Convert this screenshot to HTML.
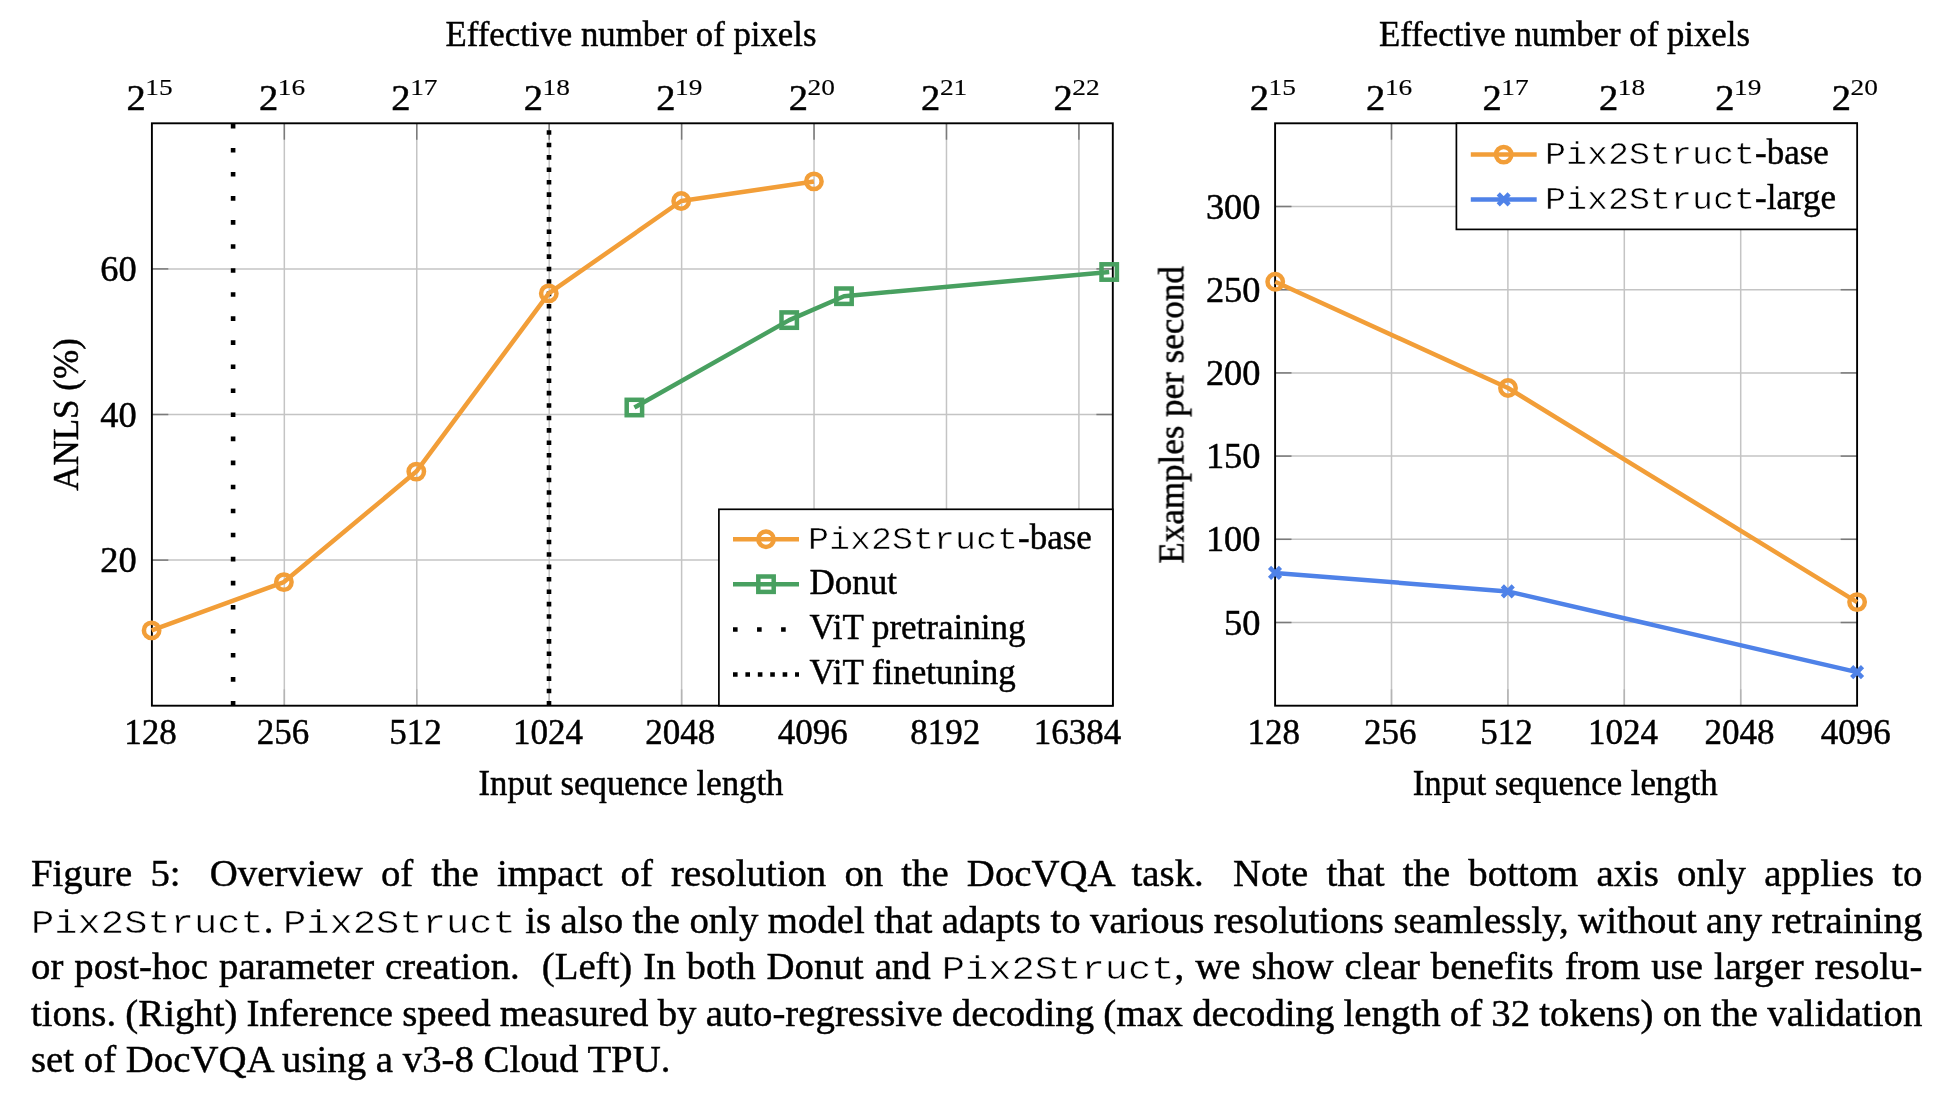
<!DOCTYPE html>
<html><head><meta charset="utf-8"><style>
html,body{margin:0;padding:0;background:#fff;}
body{width:1956px;height:1114px;position:relative;overflow:hidden;}
svg,.cl{will-change:transform;}
text{fill:#000;stroke:#000;stroke-width:0.45px;}
.mono{font-family:"Liberation Mono",monospace;}
svg text.mono{stroke:#fff;stroke-width:0.6px;}
.cl{position:absolute;left:31.2px;white-space:nowrap;font-family:"Liberation Serif",serif;font-size:38.8px;line-height:38.8px;color:#000;-webkit-text-stroke:0.45px #000;}
.cl .mono{display:inline-block;line-height:38.8px;transform:scaleY(0.87);transform-origin:0 29.74px;-webkit-text-stroke:0.6px #fff;}
.gap{display:inline-block;width:11px;}
</style></head><body>
<svg width="1956" height="1114" style="position:absolute;left:0;top:0" font-family="Liberation Serif, serif">
<line x1="284.33" y1="123.3" x2="284.33" y2="705.7" stroke="#C4C4C4" stroke-width="1.5"/>
<line x1="416.76" y1="123.3" x2="416.76" y2="705.7" stroke="#C4C4C4" stroke-width="1.5"/>
<line x1="549.19" y1="123.3" x2="549.19" y2="705.7" stroke="#C4C4C4" stroke-width="1.5"/>
<line x1="681.62" y1="123.3" x2="681.62" y2="705.7" stroke="#C4C4C4" stroke-width="1.5"/>
<line x1="814.05" y1="123.3" x2="814.05" y2="705.7" stroke="#C4C4C4" stroke-width="1.5"/>
<line x1="946.48" y1="123.3" x2="946.48" y2="705.7" stroke="#C4C4C4" stroke-width="1.5"/>
<line x1="1078.91" y1="123.3" x2="1078.91" y2="705.7" stroke="#C4C4C4" stroke-width="1.5"/>
<line x1="151.9" y1="560.10" x2="1112.8" y2="560.10" stroke="#C4C4C4" stroke-width="1.5"/>
<line x1="151.9" y1="414.50" x2="1112.8" y2="414.50" stroke="#C4C4C4" stroke-width="1.5"/>
<line x1="151.9" y1="268.90" x2="1112.8" y2="268.90" stroke="#C4C4C4" stroke-width="1.5"/>
<line x1="284.33" y1="705.7" x2="284.33" y2="689.30" stroke="#b4b4b4" stroke-width="1.5"/>
<line x1="284.33" y1="123.3" x2="284.33" y2="139.70" stroke="#7a7a7a" stroke-width="1.5"/>
<line x1="416.76" y1="705.7" x2="416.76" y2="689.30" stroke="#b4b4b4" stroke-width="1.5"/>
<line x1="416.76" y1="123.3" x2="416.76" y2="139.70" stroke="#7a7a7a" stroke-width="1.5"/>
<line x1="549.19" y1="705.7" x2="549.19" y2="689.30" stroke="#b4b4b4" stroke-width="1.5"/>
<line x1="549.19" y1="123.3" x2="549.19" y2="139.70" stroke="#7a7a7a" stroke-width="1.5"/>
<line x1="681.62" y1="705.7" x2="681.62" y2="689.30" stroke="#b4b4b4" stroke-width="1.5"/>
<line x1="681.62" y1="123.3" x2="681.62" y2="139.70" stroke="#7a7a7a" stroke-width="1.5"/>
<line x1="814.05" y1="705.7" x2="814.05" y2="689.30" stroke="#b4b4b4" stroke-width="1.5"/>
<line x1="814.05" y1="123.3" x2="814.05" y2="139.70" stroke="#7a7a7a" stroke-width="1.5"/>
<line x1="946.48" y1="705.7" x2="946.48" y2="689.30" stroke="#b4b4b4" stroke-width="1.5"/>
<line x1="946.48" y1="123.3" x2="946.48" y2="139.70" stroke="#7a7a7a" stroke-width="1.5"/>
<line x1="1078.91" y1="705.7" x2="1078.91" y2="689.30" stroke="#b4b4b4" stroke-width="1.5"/>
<line x1="1078.91" y1="123.3" x2="1078.91" y2="139.70" stroke="#7a7a7a" stroke-width="1.5"/>
<line x1="151.9" y1="560.10" x2="168.30" y2="560.10" stroke="#7a7a7a" stroke-width="1.5"/>
<line x1="1112.8" y1="560.10" x2="1096.40" y2="560.10" stroke="#7a7a7a" stroke-width="1.5"/>
<line x1="151.9" y1="414.50" x2="168.30" y2="414.50" stroke="#7a7a7a" stroke-width="1.5"/>
<line x1="1112.8" y1="414.50" x2="1096.40" y2="414.50" stroke="#7a7a7a" stroke-width="1.5"/>
<line x1="151.9" y1="268.90" x2="168.30" y2="268.90" stroke="#7a7a7a" stroke-width="1.5"/>
<line x1="1112.8" y1="268.90" x2="1096.40" y2="268.90" stroke="#7a7a7a" stroke-width="1.5"/>
<rect x="151.9" y="123.3" width="960.90" height="582.40" fill="none" stroke="#000" stroke-width="1.9"/>
<line x1="233.1" y1="705.7" x2="233.1" y2="123.3" stroke="#000" stroke-width="4.6" stroke-dasharray="4.6 19.45"/>
<line x1="549.0" y1="705.7" x2="549.0" y2="123.3" stroke="#000" stroke-width="4.6" stroke-dasharray="4.6 7.81"/>
<polyline points="151.60,630.40 283.90,582.10 416.30,471.60 548.80,293.40 681.20,201.00 813.90,181.40" fill="none" stroke="#F29E38" stroke-width="4.5" stroke-linejoin="round"/>
<circle cx="151.60" cy="630.40" r="7.7" fill="none" stroke="#F29E38" stroke-width="4.5"/>
<circle cx="283.90" cy="582.10" r="7.7" fill="none" stroke="#F29E38" stroke-width="4.5"/>
<circle cx="416.30" cy="471.60" r="7.7" fill="none" stroke="#F29E38" stroke-width="4.5"/>
<circle cx="548.80" cy="293.40" r="7.7" fill="none" stroke="#F29E38" stroke-width="4.5"/>
<circle cx="681.20" cy="201.00" r="7.7" fill="none" stroke="#F29E38" stroke-width="4.5"/>
<circle cx="813.90" cy="181.40" r="7.7" fill="none" stroke="#F29E38" stroke-width="4.5"/>
<polyline points="634.40,407.50 789.20,320.10 844.00,296.20 1109.20,272.00" fill="none" stroke="#48A060" stroke-width="4.5" stroke-linejoin="round"/>
<rect x="626.70" y="399.80" width="15.4" height="15.4" fill="none" stroke="#48A060" stroke-width="4.5"/>
<rect x="781.50" y="312.40" width="15.4" height="15.4" fill="none" stroke="#48A060" stroke-width="4.5"/>
<rect x="836.30" y="288.50" width="15.4" height="15.4" fill="none" stroke="#48A060" stroke-width="4.5"/>
<rect x="1101.50" y="264.30" width="15.4" height="15.4" fill="none" stroke="#48A060" stroke-width="4.5"/>
<rect x="718.9" y="509.3" width="393.90" height="196.40" fill="#fff" stroke="#000" stroke-width="1.7"/>
<line x1="733" y1="539.2" x2="799" y2="539.2" stroke="#F29E38" stroke-width="4.5"/>
<circle cx="766.00" cy="539.20" r="7.7" fill="none" stroke="#F29E38" stroke-width="4.5"/>
<line x1="733" y1="584.2" x2="799" y2="584.2" stroke="#48A060" stroke-width="4.5"/>
<rect x="758.30" y="576.50" width="15.4" height="15.4" fill="none" stroke="#48A060" stroke-width="4.5"/>
<line x1="733" y1="629.5" x2="799" y2="629.5" stroke="#000" stroke-width="4.6" stroke-dasharray="4.6 19.45" />
<line x1="733" y1="674.5" x2="799" y2="674.5" stroke="#000" stroke-width="4.6" stroke-dasharray="4.6 7.81" />
<text class="mono" transform="translate(808.00 548.80) scale(1 0.87)" font-size="35">Pix2Struct</text><text x="1018.00" y="548.80" font-size="35">-base</text>
<text x="809.50" y="593.80" text-anchor="start" font-size="35" >Donut</text>
<text x="809.50" y="638.80" text-anchor="start" font-size="35" >ViT pretraining</text>
<text x="809.50" y="683.80" text-anchor="start" font-size="35" >ViT finetuning</text>
<text x="150.60" y="744.20" text-anchor="middle" font-size="35" >128</text>
<text x="283.03" y="744.20" text-anchor="middle" font-size="35" >256</text>
<text x="415.46" y="744.20" text-anchor="middle" font-size="35" >512</text>
<text x="547.89" y="744.20" text-anchor="middle" font-size="35" >1024</text>
<text x="680.32" y="744.20" text-anchor="middle" font-size="35" >2048</text>
<text x="812.75" y="744.20" text-anchor="middle" font-size="35" >4096</text>
<text x="945.18" y="744.20" text-anchor="middle" font-size="35" >8192</text>
<text x="1077.61" y="744.20" text-anchor="middle" font-size="35" >16384</text>
<text transform="translate(126.50 109.90) scale(1.1 1)" font-size="35">2</text><text transform="translate(145.30 94.60) scale(1.16 1)" font-size="23.6" style="stroke-width:0.15px">15</text>
<text transform="translate(258.93 109.90) scale(1.1 1)" font-size="35">2</text><text transform="translate(277.73 94.60) scale(1.16 1)" font-size="23.6" style="stroke-width:0.15px">16</text>
<text transform="translate(391.36 109.90) scale(1.1 1)" font-size="35">2</text><text transform="translate(410.16 94.60) scale(1.16 1)" font-size="23.6" style="stroke-width:0.15px">17</text>
<text transform="translate(523.79 109.90) scale(1.1 1)" font-size="35">2</text><text transform="translate(542.59 94.60) scale(1.16 1)" font-size="23.6" style="stroke-width:0.15px">18</text>
<text transform="translate(656.22 109.90) scale(1.1 1)" font-size="35">2</text><text transform="translate(675.02 94.60) scale(1.16 1)" font-size="23.6" style="stroke-width:0.15px">19</text>
<text transform="translate(788.65 109.90) scale(1.1 1)" font-size="35">2</text><text transform="translate(807.45 94.60) scale(1.16 1)" font-size="23.6" style="stroke-width:0.15px">20</text>
<text transform="translate(921.08 109.90) scale(1.1 1)" font-size="35">2</text><text transform="translate(939.88 94.60) scale(1.16 1)" font-size="23.6" style="stroke-width:0.15px">21</text>
<text transform="translate(1053.51 109.90) scale(1.1 1)" font-size="35">2</text><text transform="translate(1072.31 94.60) scale(1.16 1)" font-size="23.6" style="stroke-width:0.15px">22</text>
<text transform="translate(136.6 572.10) scale(1.04 1)" text-anchor="end" font-size="35">20</text>
<text transform="translate(136.6 426.50) scale(1.04 1)" text-anchor="end" font-size="35">40</text>
<text transform="translate(136.6 280.90) scale(1.04 1)" text-anchor="end" font-size="35">60</text>
<text x="631.00" y="46.40" text-anchor="middle" font-size="34.75" >Effective number of pixels</text>
<text x="631.00" y="794.80" text-anchor="middle" font-size="34.75" >Input sequence length</text>
<text x="0" y="0" text-anchor="middle" font-size="35" transform="translate(78.2 414.5) rotate(-90)">ANLS (%)</text>
<line x1="1391.50" y1="123.3" x2="1391.50" y2="705.7" stroke="#C4C4C4" stroke-width="1.5"/>
<line x1="1507.90" y1="123.3" x2="1507.90" y2="705.7" stroke="#C4C4C4" stroke-width="1.5"/>
<line x1="1624.30" y1="123.3" x2="1624.30" y2="705.7" stroke="#C4C4C4" stroke-width="1.5"/>
<line x1="1740.70" y1="123.3" x2="1740.70" y2="705.7" stroke="#C4C4C4" stroke-width="1.5"/>
<line x1="1275.1" y1="622.50" x2="1857.1" y2="622.50" stroke="#C4C4C4" stroke-width="1.5"/>
<line x1="1275.1" y1="539.30" x2="1857.1" y2="539.30" stroke="#C4C4C4" stroke-width="1.5"/>
<line x1="1275.1" y1="456.10" x2="1857.1" y2="456.10" stroke="#C4C4C4" stroke-width="1.5"/>
<line x1="1275.1" y1="372.90" x2="1857.1" y2="372.90" stroke="#C4C4C4" stroke-width="1.5"/>
<line x1="1275.1" y1="289.70" x2="1857.1" y2="289.70" stroke="#C4C4C4" stroke-width="1.5"/>
<line x1="1275.1" y1="206.50" x2="1857.1" y2="206.50" stroke="#C4C4C4" stroke-width="1.5"/>
<line x1="1391.50" y1="705.7" x2="1391.50" y2="689.30" stroke="#b4b4b4" stroke-width="1.5"/>
<line x1="1391.50" y1="123.3" x2="1391.50" y2="139.70" stroke="#7a7a7a" stroke-width="1.5"/>
<line x1="1507.90" y1="705.7" x2="1507.90" y2="689.30" stroke="#b4b4b4" stroke-width="1.5"/>
<line x1="1507.90" y1="123.3" x2="1507.90" y2="139.70" stroke="#7a7a7a" stroke-width="1.5"/>
<line x1="1624.30" y1="705.7" x2="1624.30" y2="689.30" stroke="#b4b4b4" stroke-width="1.5"/>
<line x1="1624.30" y1="123.3" x2="1624.30" y2="139.70" stroke="#7a7a7a" stroke-width="1.5"/>
<line x1="1740.70" y1="705.7" x2="1740.70" y2="689.30" stroke="#b4b4b4" stroke-width="1.5"/>
<line x1="1740.70" y1="123.3" x2="1740.70" y2="139.70" stroke="#7a7a7a" stroke-width="1.5"/>
<line x1="1275.1" y1="622.50" x2="1291.50" y2="622.50" stroke="#7a7a7a" stroke-width="1.5"/>
<line x1="1857.1" y1="622.50" x2="1840.70" y2="622.50" stroke="#7a7a7a" stroke-width="1.5"/>
<line x1="1275.1" y1="539.30" x2="1291.50" y2="539.30" stroke="#7a7a7a" stroke-width="1.5"/>
<line x1="1857.1" y1="539.30" x2="1840.70" y2="539.30" stroke="#7a7a7a" stroke-width="1.5"/>
<line x1="1275.1" y1="456.10" x2="1291.50" y2="456.10" stroke="#7a7a7a" stroke-width="1.5"/>
<line x1="1857.1" y1="456.10" x2="1840.70" y2="456.10" stroke="#7a7a7a" stroke-width="1.5"/>
<line x1="1275.1" y1="372.90" x2="1291.50" y2="372.90" stroke="#7a7a7a" stroke-width="1.5"/>
<line x1="1857.1" y1="372.90" x2="1840.70" y2="372.90" stroke="#7a7a7a" stroke-width="1.5"/>
<line x1="1275.1" y1="289.70" x2="1291.50" y2="289.70" stroke="#7a7a7a" stroke-width="1.5"/>
<line x1="1857.1" y1="289.70" x2="1840.70" y2="289.70" stroke="#7a7a7a" stroke-width="1.5"/>
<line x1="1275.1" y1="206.50" x2="1291.50" y2="206.50" stroke="#7a7a7a" stroke-width="1.5"/>
<line x1="1857.1" y1="206.50" x2="1840.70" y2="206.50" stroke="#7a7a7a" stroke-width="1.5"/>
<rect x="1275.1" y="123.3" width="582.00" height="582.40" fill="none" stroke="#000" stroke-width="1.9"/>
<polyline points="1275.20,281.80 1508.00,388.00 1857.10,602.10" fill="none" stroke="#F29E38" stroke-width="4.5" stroke-linejoin="round"/>
<circle cx="1275.20" cy="281.80" r="7.7" fill="none" stroke="#F29E38" stroke-width="4.5"/>
<circle cx="1508.00" cy="388.00" r="7.7" fill="none" stroke="#F29E38" stroke-width="4.5"/>
<circle cx="1857.10" cy="602.10" r="7.7" fill="none" stroke="#F29E38" stroke-width="4.5"/>
<polyline points="1275.00,572.90 1507.80,591.40 1857.10,672.10" fill="none" stroke="#4F82E8" stroke-width="4.5" stroke-linejoin="round"/>
<path d="M1269.56 567.46L1280.44 578.34M1269.56 578.34L1280.44 567.46" stroke="#4F82E8" stroke-width="4.5" fill="none"/>
<path d="M1502.36 585.96L1513.24 596.84M1502.36 596.84L1513.24 585.96" stroke="#4F82E8" stroke-width="4.5" fill="none"/>
<path d="M1851.66 666.66L1862.54 677.54M1851.66 677.54L1862.54 666.66" stroke="#4F82E8" stroke-width="4.5" fill="none"/>
<rect x="1456.4" y="123.3" width="400.70" height="106.10" fill="#fff" stroke="#000" stroke-width="1.7"/>
<line x1="1470.8" y1="154.6" x2="1536.7" y2="154.6" stroke="#F29E38" stroke-width="4.5"/>
<circle cx="1503.70" cy="154.60" r="7.7" fill="none" stroke="#F29E38" stroke-width="4.5"/>
<line x1="1470.8" y1="199.39999999999998" x2="1536.7" y2="199.39999999999998" stroke="#4F82E8" stroke-width="4.5"/>
<path d="M1498.26 193.96L1509.14 204.84M1498.26 204.84L1509.14 193.96" stroke="#4F82E8" stroke-width="4.5" fill="none"/>
<text class="mono" transform="translate(1545.00 163.80) scale(1 0.87)" font-size="35">Pix2Struct</text><text x="1755.00" y="163.80" font-size="35">-base</text>
<text class="mono" transform="translate(1545.00 208.80) scale(1 0.87)" font-size="35">Pix2Struct</text><text x="1755.00" y="208.80" font-size="35">-large</text>
<text x="1273.80" y="744.20" text-anchor="middle" font-size="35" >128</text>
<text x="1390.20" y="744.20" text-anchor="middle" font-size="35" >256</text>
<text x="1506.60" y="744.20" text-anchor="middle" font-size="35" >512</text>
<text x="1623.00" y="744.20" text-anchor="middle" font-size="35" >1024</text>
<text x="1739.40" y="744.20" text-anchor="middle" font-size="35" >2048</text>
<text x="1855.80" y="744.20" text-anchor="middle" font-size="35" >4096</text>
<text transform="translate(1249.70 109.90) scale(1.1 1)" font-size="35">2</text><text transform="translate(1268.50 94.60) scale(1.16 1)" font-size="23.6" style="stroke-width:0.15px">15</text>
<text transform="translate(1366.10 109.90) scale(1.1 1)" font-size="35">2</text><text transform="translate(1384.90 94.60) scale(1.16 1)" font-size="23.6" style="stroke-width:0.15px">16</text>
<text transform="translate(1482.50 109.90) scale(1.1 1)" font-size="35">2</text><text transform="translate(1501.30 94.60) scale(1.16 1)" font-size="23.6" style="stroke-width:0.15px">17</text>
<text transform="translate(1598.90 109.90) scale(1.1 1)" font-size="35">2</text><text transform="translate(1617.70 94.60) scale(1.16 1)" font-size="23.6" style="stroke-width:0.15px">18</text>
<text transform="translate(1715.30 109.90) scale(1.1 1)" font-size="35">2</text><text transform="translate(1734.10 94.60) scale(1.16 1)" font-size="23.6" style="stroke-width:0.15px">19</text>
<text transform="translate(1831.70 109.90) scale(1.1 1)" font-size="35">2</text><text transform="translate(1850.50 94.60) scale(1.16 1)" font-size="23.6" style="stroke-width:0.15px">20</text>
<text transform="translate(1260.5 634.50) scale(1.04 1)" text-anchor="end" font-size="35">50</text>
<text transform="translate(1260.5 551.30) scale(1.04 1)" text-anchor="end" font-size="35">100</text>
<text transform="translate(1260.5 468.10) scale(1.04 1)" text-anchor="end" font-size="35">150</text>
<text transform="translate(1260.5 384.90) scale(1.04 1)" text-anchor="end" font-size="35">200</text>
<text transform="translate(1260.5 301.70) scale(1.04 1)" text-anchor="end" font-size="35">250</text>
<text transform="translate(1260.5 218.50) scale(1.04 1)" text-anchor="end" font-size="35">300</text>
<text x="1564.50" y="46.40" text-anchor="middle" font-size="34.75" >Effective number of pixels</text>
<text x="1565.20" y="794.50" text-anchor="middle" font-size="34.75" >Input sequence length</text>
<text x="0" y="0" text-anchor="middle" font-size="35" transform="translate(1183.5 414.9) rotate(-90)">Examples per second</text>
</svg>
<div class="cl" style="top:854.30px;word-spacing:8.446px">Figure 5: <span class="gap"></span>Overview of the impact of resolution on the DocVQA task. <span class="gap"></span>Note that the bottom axis only applies to</div>
<div class="cl" style="top:900.73px;word-spacing:-0.251px"><span class="mono">Pix2Struct</span>. <span class="mono">Pix2Struct</span> is also the only model that adapts to various resolutions seamlessly, without any retraining</div>
<div class="cl" style="top:947.16px;word-spacing:1.331px">or post-hoc parameter creation. <span class="gap"></span>(Left) In both Donut and <span class="mono">Pix2Struct</span>, we show clear benefits from use larger resolu-</div>
<div class="cl" style="top:993.59px;word-spacing:-0.500px">tions. (Right) Inference speed measured by auto-regressive decoding (max decoding length of 32 tokens) on the validation</div>
<div class="cl" style="top:1040.03px;word-spacing:0.000px">set of DocVQA using a v3-8 Cloud TPU.</div>
</body></html>
